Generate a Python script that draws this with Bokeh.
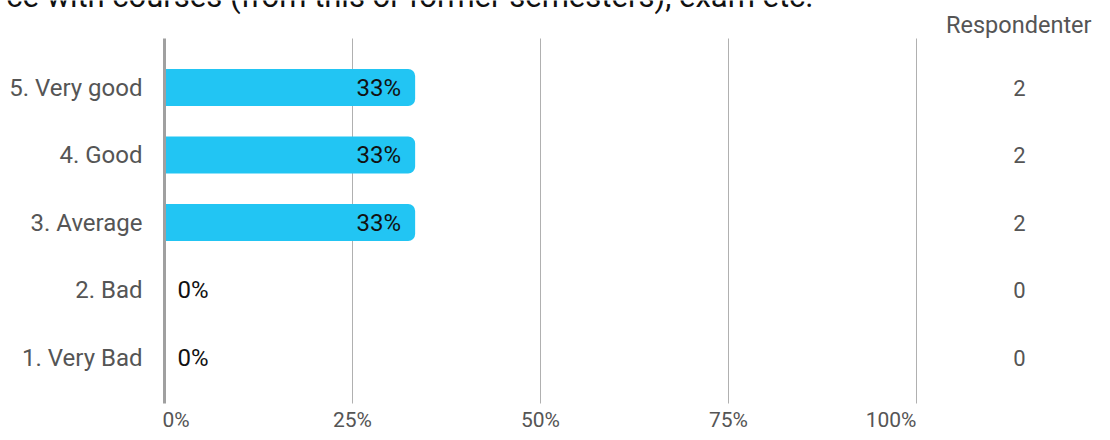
from bokeh.plotting import figure
from bokeh.models import Range1d, Label, ColumnDataSource
from bokeh.core.properties import value
from bokeh.embed import file_html
from bokeh.resources import INLINE

# ---- data ----
categories = ["5. Very good", "4. Good", "3. Average", "2. Bad", "1. Very Bad"]
ratings = [5, 4, 3, 2, 1]
percent = [33.33, 33.33, 33.33, 0, 0]
pct_labels = ["33%", "33%", "33%", "0%", "0%"]
counts = [2, 2, 2, 0, 0]
tick_values = [0, 25, 50, 75, 100]
tick_labels = ["0%", "25%", "50%", "75%", "100%"]
title_text = "ce with courses (from this or former semesters), exam etc."
count_header = "Respondenter"

# ---- layout ----
W, H = 1102, 432
PX_PER_PCT = 7.52
X0_PX = 164
ROW_PX = 67.5
TOP_ROW_PX = 87
x_start = -X0_PX / PX_PER_PCT
x_end = x_start + W / PX_PER_PCT
y_top = 5 + TOP_ROW_PX / ROW_PX
y_bottom = y_top - H / ROW_PX

def ypx(px):
    return 5 + (TOP_ROW_PX - px) / ROW_PX

def xpx(px):
    return (px - X0_PX) / PX_PER_PCT

FONT = value("Roboto")
GRAY = "#555555"

p = figure(width=W, height=H, output_backend="svg", toolbar_location=None,
           x_range=Range1d(x_start, x_end), y_range=Range1d(y_bottom, y_top),
           min_border=0, outline_line_color=None, tools="")
p.xaxis.visible = False
p.yaxis.visible = False
p.xgrid.visible = False
p.ygrid.visible = False

# gridlines
grid_src = ColumnDataSource(dict(x=tick_values[1:]))
p.segment(x0="x", x1="x", y0=ypx(403), y1=ypx(38), source=grid_src,
          line_color="#b0b0b0", line_width=1)

# bars
bar_src = ColumnDataSource(dict(y=ratings, right=percent, cat=categories,
                                lab=pct_labels, cnt=[str(c) for c in counts]))
p.hbar(y="y", left=0, right="right", height=0.55, source=bar_src,
       fill_color="#22C5F3", line_color=None, border_radius=(0, 7, 7, 0))

# zero axis line
p.segment(x0=[0], x1=[0], y0=ypx(403), y1=ypx(38), line_color="#a0a0a0", line_width=3)

# percent labels
pos_idx = [i for i, v in enumerate(percent) if v > 0]
zero_idx = [i for i, v in enumerate(percent) if v == 0]
p.text(x=[percent[i] for i in pos_idx], y=[ratings[i] for i in pos_idx],
       text=[pct_labels[i] for i in pos_idx], x_offset=-14,
       text_align="right", text_baseline="middle", text_font=FONT,
       text_font_size="24px", text_color="#111111")
p.text(x=[percent[i] for i in zero_idx], y=[ratings[i] for i in zero_idx],
       text=[pct_labels[i] for i in zero_idx], x_offset=13,
       text_align="left", text_baseline="middle", text_font=FONT,
       text_font_size="24px", text_color="#111111")

# category labels
p.text(x=0, y="y", text="cat", source=bar_src, x_offset=-22,
       text_align="right", text_baseline="middle", text_font=FONT,
       text_font_size="24px", text_color=GRAY)

# counts
p.text(x=xpx(1019), y="y", text="cnt", source=bar_src,
       text_align="center", text_baseline="middle", text_font=FONT,
       text_font_size="22px", text_color=GRAY)

# tick labels
aligns = ["left", "center", "center", "center", "right"]
offs = [-2, 0, 0, 0, 0]
for v, lab, al, off in zip(tick_values, tick_labels, aligns, offs):
    p.text(x=[v], y=[ypx(419)], text=[lab], x_offset=off, text_align=al,
           text_baseline="middle", text_font=FONT, text_font_size="21px",
           text_color=GRAY)

# title (cut off at the top) and header
p.add_layout(Label(x=813, y=H + 4, x_units="screen", y_units="screen",
                   text=title_text, text_align="right", text_baseline="alphabetic",
                   text_font="Roboto", text_font_size="31px", text_color="#111111"))
p.add_layout(Label(x=1091, y=H - 24, x_units="screen", y_units="screen",
                   text=count_header, text_align="right", text_baseline="middle",
                   text_font="Roboto", text_font_size="23.5px", text_color=GRAY))

open("out.html", "w").write(file_html(p, INLINE))
